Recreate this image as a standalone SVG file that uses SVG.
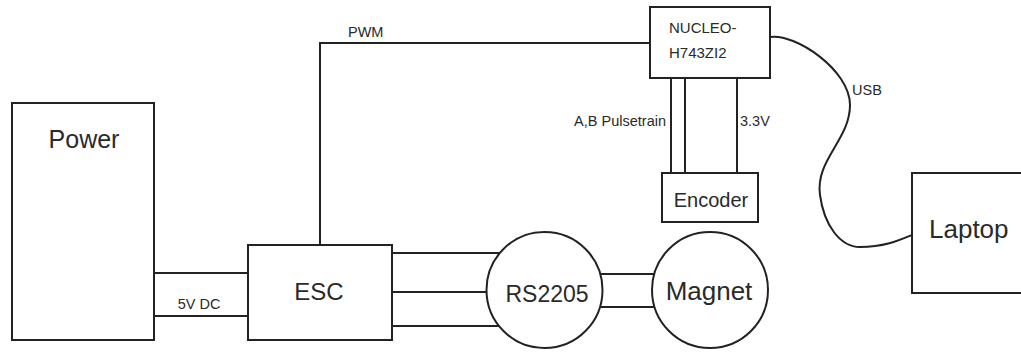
<svg xmlns="http://www.w3.org/2000/svg" width="1021" height="352" viewBox="0 0 1021 352">
<style>
.box{fill:#fff;stroke:#222;stroke-width:2}
.w{fill:none;stroke:#222;stroke-width:2}
text{font-family:"Liberation Sans",Arial,sans-serif;fill:#2a2a2a}
.big{font-size:25px}
.sm{font-size:14.5px}
</style>
<g id="connectors">
<path class="w" d="M320,245 V43 H650"/>
<path class="w" d="M154,273 H248 M154,316 H248"/>
<path class="w" d="M671,78 V173 M685,78 V173 M737,78 V173"/>
<path class="w" d="M392,253 H499 M392,292 H487 M392,326 H499"/>
<path class="w" d="M601,274 H654 M601,307 H654"/>
<path class="w" d="M770,37 C795,33 850,70 850,105 C850,140 815,160 820,195 C824,225 840,247 860,247 C885,247 900,240 912,235"/>
<text class="sm" x="348" y="37">PWM</text>
<text class="sm" x="199" y="309" text-anchor="middle">5V DC</text>
<text class="sm" x="666" y="126" text-anchor="end">A,B Pulsetrain</text>
<text class="sm" x="740" y="126">3.3V</text>
<text class="sm" x="852" y="95">USB</text>
</g>
<g id="power">
<rect class="box" x="12" y="103" width="142" height="237"/>
<text class="big" x="84" y="148" text-anchor="middle">Power</text>
</g>
<g id="esc">
<rect class="box" x="248" y="245" width="144" height="95"/>
<text style="font-size:24px" x="319" y="300" text-anchor="middle">ESC</text>
</g>
<g id="nucleo">
<rect class="box" x="650" y="7" width="120" height="71"/>
<text style="font-size:15px" x="669" y="33">NUCLEO-</text>
<text style="font-size:15px" x="669" y="58">H743ZI2</text>
</g>
<g id="encoder">
<rect class="box" x="662" y="173" width="96" height="49"/>
<text style="font-size:20px" x="711" y="207" text-anchor="middle">Encoder</text>
</g>
<g id="rs2205">
<circle class="box" cx="544.5" cy="290" r="58"/>
<text style="font-size:23px" x="547" y="302" text-anchor="middle">RS2205</text>
</g>
<g id="magnet">
<circle class="box" cx="710" cy="290" r="58"/>
<text style="font-size:26px" x="709" y="300" text-anchor="middle">Magnet</text>
</g>
<g id="laptop">
<rect class="box" x="912" y="173" width="120" height="120"/>
<text style="font-size:26px" x="929" y="238">Laptop</text>
</g>
</svg>
